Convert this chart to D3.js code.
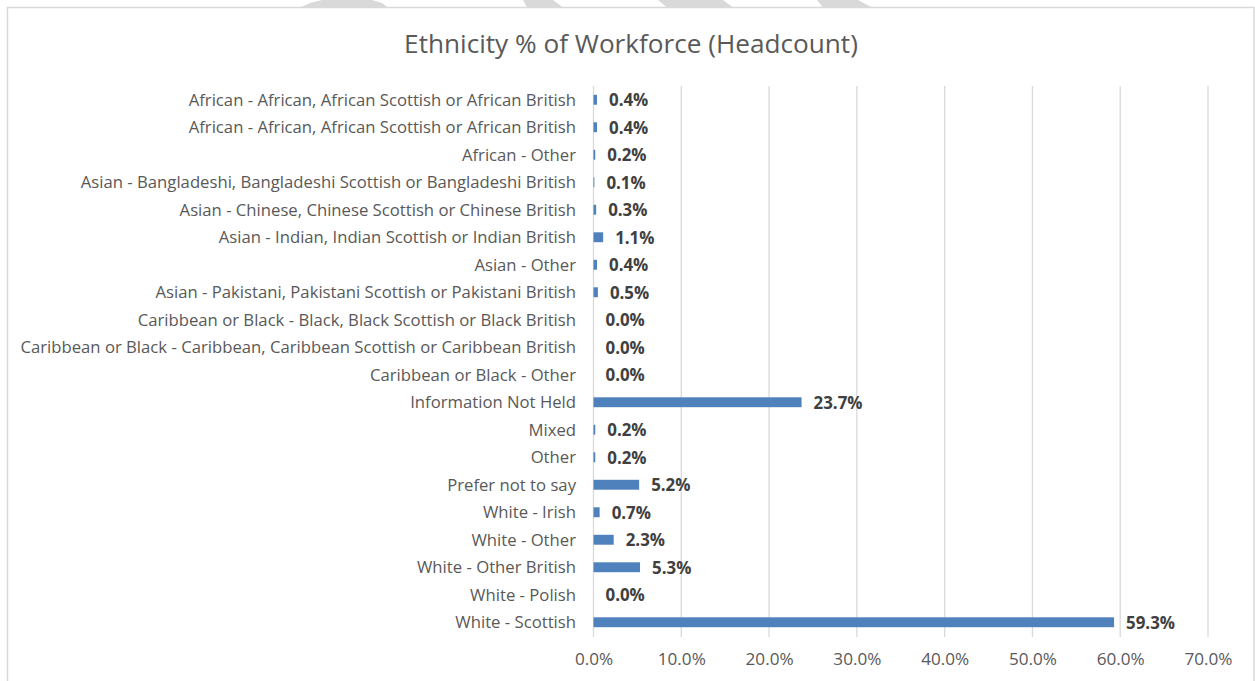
<!DOCTYPE html>
<html>
<head>
<meta charset="utf-8">
<script src="https://cdn.jsdelivr.net/npm/d3@7"></script>
<style>
  html, body { margin: 0; padding: 0; background: #ffffff; }
  svg { display: block; }
</style>
</head>
<body>
<svg id="chart" width="1255" height="681"></svg>
<script>
const categories = [
  "African - African, African Scottish or African British",
  "African - African, African Scottish or African British",
  "African - Other",
  "Asian - Bangladeshi, Bangladeshi Scottish or Bangladeshi British",
  "Asian - Chinese, Chinese Scottish or Chinese British",
  "Asian - Indian, Indian Scottish or Indian British",
  "Asian - Other",
  "Asian - Pakistani, Pakistani Scottish or Pakistani British",
  "Caribbean or Black - Black, Black Scottish or Black British",
  "Caribbean or Black - Caribbean, Caribbean Scottish or Caribbean British",
  "Caribbean or Black - Other",
  "Information Not Held",
  "Mixed",
  "Other",
  "Prefer not to say",
  "White - Irish",
  "White - Other",
  "White - Other British",
  "White - Polish",
  "White - Scottish"
];
const values = [0.4, 0.4, 0.2, 0.1, 0.3, 1.1, 0.4, 0.5, 0.0, 0.0, 0.0, 23.7, 0.2, 0.2, 5.2, 0.7, 2.3, 5.3, 0.0, 59.3];
const xTicks = [0, 10, 20, 30, 40, 50, 60, 70];
const title = "Ethnicity % of Workforce (Headcount)";

const svg = d3.select("#chart");
const font = "'Open Sans', Lato, sans-serif";

// size a font so a reference string reaches a target width
function fitSize(str, target, weight) {
  const t = svg.append("text").attr("font-family", font).attr("font-size", 20)
    .attr("font-weight", weight || "normal").text(str);
  const w = t.node().getComputedTextLength();
  t.remove();
  return 20 * target / w;
}
const labelSize = fitSize(categories[9], 556);
const titleSize = fitSize(title, 454);
const tickSize = fitSize("10.0%", 48);
const valSize = fitSize("59.3%", 49, "bold");

// chart border
svg.append("rect")
  .attr("x", 7.5).attr("y", 7.5)
  .attr("width", 1246.5).attr("height", 700)
  .attr("fill", "#ffffff")
  .attr("stroke", "#d9d9d9").attr("stroke-width", 1.5);

// watermark fragments at the top
const wm = [
  [[300,7.5],[310,3],[322,0],[372,0],[382,3],[388,7.5]],
  [[523,0],[553,0],[563,7.5],[527,7.5]],
  [[658,0],[723,0],[733,7.5],[667,7.5]],
  [[817,0],[858,0],[872,7.5],[823,7.5]]
];
svg.selectAll("polygon.wm").data(wm).enter().append("polygon")
  .attr("class", "wm")
  .attr("points", d => d.map(p => p.join(",")).join(" "))
  .attr("fill", "#d9d9d9");

// title
svg.append("text")
  .attr("x", 631).attr("y", 53)
  .attr("text-anchor", "middle")
  .attr("font-family", font)
  .attr("font-size", titleSize)
  .attr("fill", "#595959")
  .text(title);

const idx = d3.range(categories.length);
const y = d3.scaleBand().domain(idx).range([86, 636]).paddingInner(0.64).paddingOuter(0.32);
const x = d3.scaleLinear().domain([0, 70]).range([593.5, 1208]);

// gridlines
svg.append("g").selectAll("line").data(xTicks).enter().append("line")
  .attr("x1", d => x(d)).attr("x2", d => x(d))
  .attr("y1", 86).attr("y2", 637)
  .attr("stroke", "#d9d9d9").attr("stroke-width", 1.3);

// x axis labels
const xAxis = d3.axisBottom(x).tickValues(xTicks).tickSize(0).tickFormat(d => d.toFixed(1) + "%");
const gx = svg.append("g").attr("transform", "translate(0,650)").call(xAxis);
gx.select(".domain").remove();
gx.selectAll("text")
  .attr("font-family", font).attr("font-size", tickSize).attr("fill", "#595959");

// y axis labels
const yAxis = d3.axisLeft(y).tickSize(0).tickPadding(0).tickFormat(i => categories[i]);
const gy = svg.append("g").attr("transform", "translate(576,0.5)").call(yAxis);
gy.select(".domain").remove();
gy.selectAll("text")
  .attr("font-family", font).attr("font-size", labelSize).attr("fill", "#595959");

// bars
svg.append("g").selectAll("rect").data(idx).enter().append("rect")
  .attr("x", x(0))
  .attr("y", i => y(i))
  .attr("width", i => x(values[i]) - x(0))
  .attr("height", y.bandwidth())
  .attr("fill", "#4f81bd");

// data labels
svg.append("g").selectAll("text").data(idx).enter().append("text")
  .attr("x", i => x(values[i]) + 12)
  .attr("y", i => y(i) + y.bandwidth() / 2 + 0.5)
  .attr("dy", "0.35em")
  .attr("font-family", font)
  .attr("font-size", valSize)
  .attr("font-weight", "bold")
  .attr("fill", "#404040")
  .text(i => values[i].toFixed(1) + "%");
</script>
</body>
</html>
